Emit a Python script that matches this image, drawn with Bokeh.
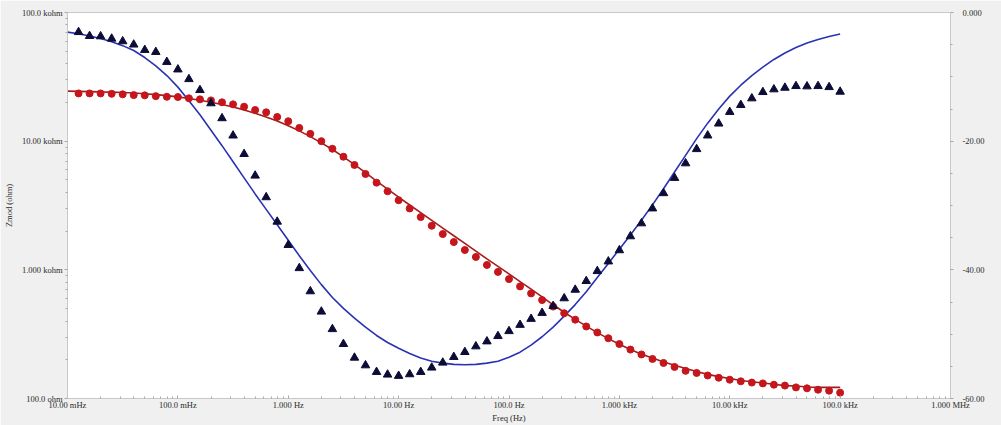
from bokeh.plotting import figure
from bokeh.models import Range1d, LinearAxis, FixedTicker, LinearScale
from bokeh.embed import file_html
from bokeh.resources import INLINE

# Measured spectrum: 10 points per decade, 12.59 mHz .. 100 kHz
freq_hz = [
    0.01259, 0.01585, 0.01995, 0.02512, 0.03162, 0.03981, 0.05012, 0.06310, 0.07943,
    0.1000, 0.1259, 0.1585, 0.1995, 0.2512, 0.3162, 0.3981, 0.5012, 0.6310, 0.7943,
    1.000, 1.259, 1.585, 1.995, 2.512, 3.162, 3.981, 5.012, 6.310, 7.943,
    10.00, 12.59, 15.85, 19.95, 25.12, 31.62, 39.81, 50.12, 63.10, 79.43,
    100.0, 125.9, 158.5, 199.5, 251.2, 316.2, 398.1, 501.2, 631.0, 794.3,
    1000.0, 1259.0, 1585.0, 1995.0, 2512.0, 3162.0, 3981.0, 5012.0, 6310.0, 7943.0,
    10000.0, 12590.0, 15850.0, 19950.0, 25120.0, 31620.0, 39810.0, 50120.0, 63100.0, 79430.0,
    100000.0,
]
zmod_ohm = [
    23500, 23500, 23500, 23330, 23120, 22800, 22700, 22390, 22130,
    22030, 21530, 21130, 20750, 20040, 19320, 18540, 17460, 16750, 15420,
    14290, 12680, 11400, 10000, 8730, 7570, 6530, 5560, 4760, 4080,
    3475, 3000, 2570, 2200, 1897, 1644, 1426, 1259, 1091, 964,
    847, 743, 656, 582, 518, 460, 410, 363, 326, 294,
    265, 240, 220, 203, 189, 176, 164, 158, 151, 145,
    140, 136, 133, 131, 128, 126, 122, 120, 117, 115,
    111,
]
phase_deg = [
    -3.05, -3.66, -3.71, -4.07, -4.48, -4.99, -5.83, -6.14, -7.69,
    -8.86, -10.36, -12.06, -14.12, -16.44, -19.13, -22.0, -25.36, -28.72, -32.52,
    -36.14, -39.74, -43.34, -46.5, -49.22, -51.54, -53.66, -54.85, -55.88, -56.29,
    -56.49, -56.24, -55.88, -55.2, -54.43, -53.55, -52.78, -51.9, -51.13, -50.3,
    -49.53, -48.56, -47.63, -46.7, -45.62, -44.43, -43.1, -41.75, -40.2, -38.7,
    -36.96, -34.79, -32.78, -30.46, -28.09, -25.72, -23.45, -21.24, -19.12, -17.27,
    -15.46, -14.38, -13.35, -12.37, -11.95, -11.7, -11.44, -11.49, -11.44, -11.6,
    -12.32,
]

# Equivalent-circuit fit: 10 mHz, then the measured frequencies
fit_freq_hz = [0.01000] + freq_hz
fit_zmod_ohm = [
    24490, 24380, 24270, 24150, 24040, 23880, 23660, 23390, 23010, 22590,
    22080, 21430, 20800, 20090, 19280, 18410, 17500, 16480, 15420, 14320,
    13180, 12020, 10840, 9705, 8610, 7550, 6561, 5689, 4898, 4236,
    3673, 3192, 2780, 2421, 2109, 1841, 1603, 1396, 1216, 1064,
    929, 811, 708, 617, 535, 468, 412, 365, 325, 292,
    264, 240, 221, 206, 192, 181, 171, 162, 154, 148,
    143, 138, 135, 132, 129, 126, 125, 123, 122, 122,
    122,
]
fit_phase_deg = [
    -3.05, -3.3, -3.65, -4.05, -4.55, -5.15, -5.9, -7.0, -8.3, -9.8,
    -11.6, -13.7, -15.9, -18.3, -20.7, -23.2, -25.7, -28.2, -30.6, -33.0,
    -35.4, -37.8, -40.1, -42.3, -44.3, -46.0, -47.5, -48.9, -50.2, -51.3,
    -52.2, -53.0, -53.7, -54.2, -54.5, -54.7, -54.75, -54.7, -54.5, -54.2,
    -53.6, -52.8, -51.7, -50.4, -48.9, -47.2, -45.4, -43.4, -41.2, -39.0,
    -36.8, -34.6, -32.3, -29.9, -27.4, -24.8, -22.2, -19.6, -17.2, -15.0,
    -13.0, -11.3, -9.8, -8.5, -7.3, -6.3, -5.45, -4.75, -4.2, -3.72,
    -3.35,
]

freq_ticks = [0.01, 0.1, 1, 10, 100, 1000, 10000, 100000, 1000000]
freq_labels = ["10.00 mHz", "100.0 mHz", "1.000 Hz", "10.00 Hz", "100.0 Hz",
               "1.000 kHz", "10.00 kHz", "100.0 kHz", "1.000 MHz"]
zmod_ticks = [100, 1000, 10000, 100000]
zmod_labels = ["100.0 ohm", "1.000 kohm", "10.00 kohm", "100.0 kohm"]
phase_ticks = [-60, -40, -20, 0]
phase_labels = ["-60.00", "-40.00", "-20.00", "0.000"]

FONT = "Liberation Serif"
TEXT = "#2a2a2a"
TICK = "#a8a8a8"


def log_minor(decade_ticks):
    out = []
    for t in decade_ticks[:-1]:
        out += [t * m for m in range(2, 10)]
    return out


p = figure(width=1001, height=425,
           x_axis_type="log", y_axis_type="log",
           x_range=Range1d(0.01, 1e6), y_range=Range1d(100, 1e5),
           output_backend="svg", toolbar_location=None,
           min_border_left=65, min_border_right=51,
           min_border_top=12, min_border_bottom=25)

p.border_fill_color = "#f0f0f0"
p.background_fill_color = "white"
p.outline_line_color = "#c8c8c8"
p.xgrid.visible = False
p.ygrid.visible = False

# phase uses its own linear range on the right-hand side
p.extra_y_ranges = {"phase": Range1d(-60, 0)}
p.extra_y_scales = {"phase": LinearScale()}

xa = p.xaxis[0]
xa.ticker = FixedTicker(ticks=freq_ticks, minor_ticks=log_minor(freq_ticks))
xa.major_label_overrides = dict(zip(freq_ticks, freq_labels))
xa.axis_label = "Freq (Hz)"

ya = p.yaxis[0]
ya.ticker = FixedTicker(ticks=zmod_ticks, minor_ticks=log_minor(zmod_ticks))
ya.major_label_overrides = dict(zip(zmod_ticks, zmod_labels))
ya.axis_label = "Zmod (ohm)"

ra = LinearAxis(y_range_name="phase",
                ticker=FixedTicker(ticks=phase_ticks,
                                   minor_ticks=[v for v in range(-55, 0, 5) if v % 20]))
ra.major_label_overrides = dict(zip(phase_ticks, phase_labels))
p.add_layout(ra, "right")

for ax in (xa, ya, ra):
    ax.axis_line_color = "#c8c8c8"
    ax.major_tick_line_color = TICK
    ax.minor_tick_line_color = TICK
    ax.major_tick_out = 3
    ax.major_tick_in = 0
    ax.minor_tick_out = 2
    ax.minor_tick_in = 0
    ax.major_label_text_font = FONT
    ax.major_label_text_font_size = "8.5px"
    ax.major_label_text_color = TEXT
    ax.axis_label_text_font = FONT
    ax.axis_label_text_font_size = "8.5px"
    ax.axis_label_text_font_style = "normal"
    ax.axis_label_text_color = TEXT
    ax.major_label_standoff = 2
    ax.axis_label_standoff = 2

# frequency ticks sit just inside the frame so the labels stay close
xa.major_tick_out = 0
xa.minor_tick_out = 0
xa.major_tick_in = 3
xa.minor_tick_in = 2
xa.major_label_standoff = 1
xa.axis_label_standoff = 0
ya.axis_label_standoff = 5
ra.major_label_standoff = 9

# fit curves
p.line(fit_freq_hz, fit_zmod_ohm, line_color="#a41c1c", line_width=1.6)
p.line(fit_freq_hz, fit_phase_deg, y_range_name="phase",
       line_color="#2a32b4", line_width=1.6)

# measured points
p.scatter(freq_hz, zmod_ohm, marker="circle", size=7,
          fill_color="#c4161c", line_color="#c4161c")
p.scatter(freq_hz, phase_deg, y_range_name="phase", marker="triangle", size=8.5,
          fill_color="#0c0c36", line_color="#0c0c36")

open("out.html", "w").write(file_html(p, INLINE))
